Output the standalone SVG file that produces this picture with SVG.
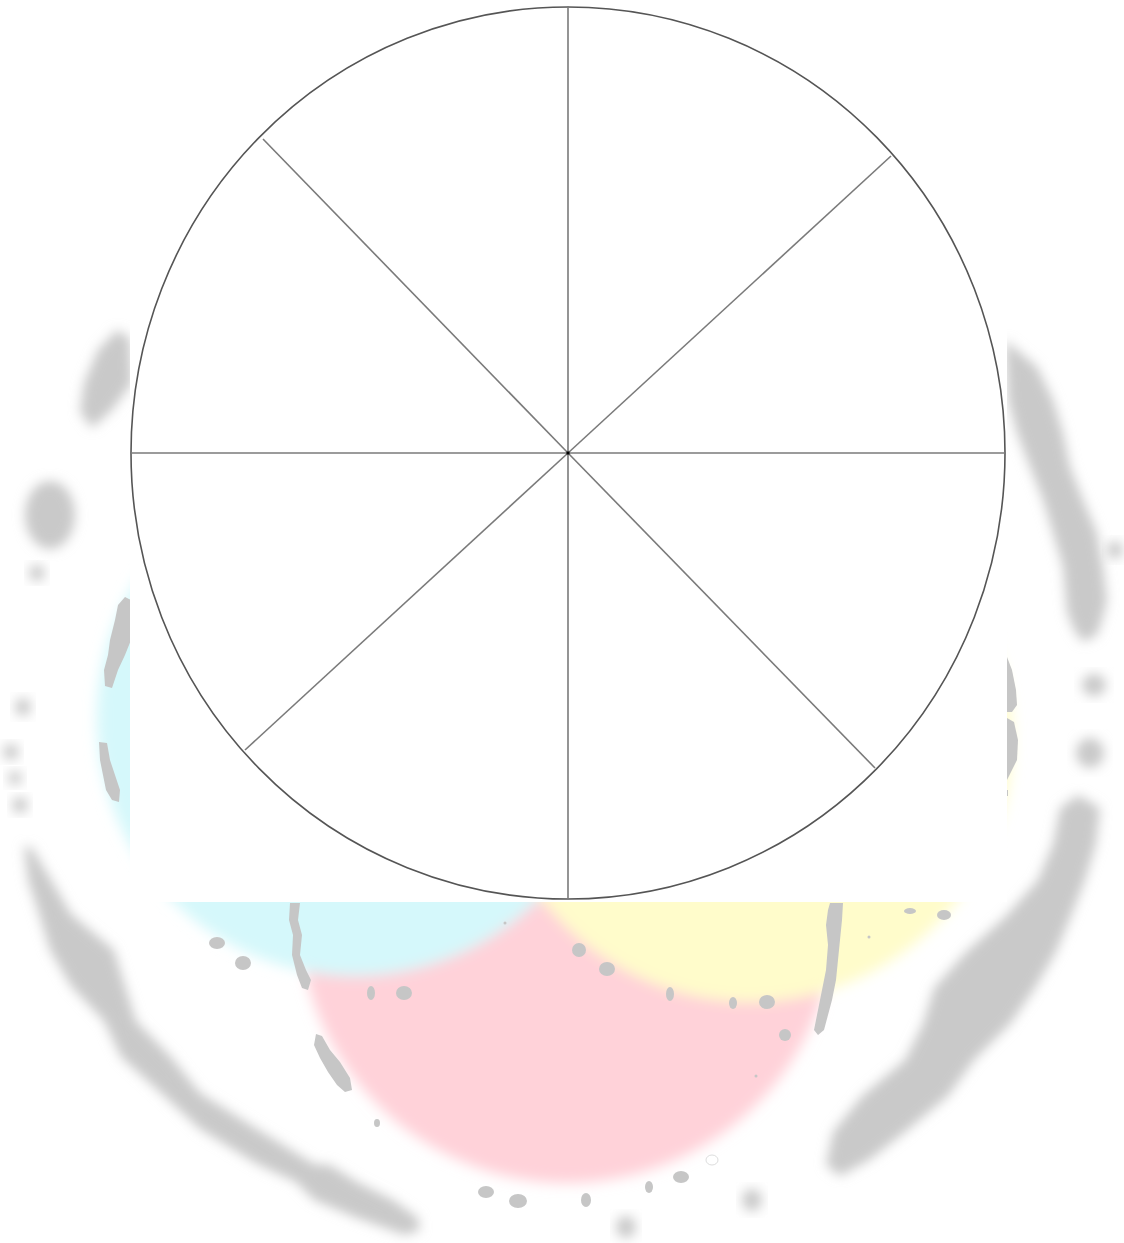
<svg xmlns="http://www.w3.org/2000/svg" width="1124" height="1243" viewBox="0 0 1124 1243">
<defs>
<filter id="soft" x="-30%" y="-30%" width="160%" height="160%"><feGaussianBlur stdDeviation="6"/></filter>
<filter id="tint" x="-10%" y="-10%" width="120%" height="120%"><feGaussianBlur stdDeviation="7"/></filter>
<style>
.shadow{fill:#c9c9c9;filter:url(#soft)}
.isle{fill:#c6c6c6}
.spoke{stroke:#7a7a7a;stroke-width:1.6;fill:none}
.rim{stroke:#555;stroke-width:1.6;fill:none}
</style>
</defs>
<rect width="1124" height="1243" fill="#fff"/>
<g id="tints" filter="url(#tint)">
<circle id="pink" cx="567" cy="915" r="268" fill="#ffd2d9"/>
<circle id="cyan" cx="355" cy="718" r="258" fill="#d5f8fb"/>
<circle id="yellow" cx="750" cy="740" r="262" fill="#fffccb"/>
</g>
<g id="shadows">
<path class="shadow" d="M117,330 L130,338 L132,383 L112,410 L92,428 L80,412 L84,383 L98,350 Z"/>
<ellipse class="shadow" cx="50" cy="515" rx="25" ry="34"/>
<ellipse class="shadow" cx="37" cy="573" rx="8" ry="8"/>
<ellipse class="shadow" cx="23" cy="707" rx="8" ry="9"/>
<ellipse class="shadow" cx="11" cy="752" rx="8" ry="8"/>
<ellipse class="shadow" cx="15" cy="778" rx="7" ry="7"/>
<ellipse class="shadow" cx="20" cy="805" rx="8" ry="8"/>
<path class="shadow" d="M24,846 L32,848 L60,895 L71,914 L114,950 L125,986 L136,1021 L171,1057 L200,1093 L257,1129 L314,1164 L330,1165 L357,1182 L393,1200 L418,1218 L420,1230 L405,1235 L357,1218 L314,1200 L296,1182 L257,1164 L200,1129 L161,1093 L121,1057 L104,1021 L71,986 L50,950 L39,914 L28,880 Z"/>
<path class="shadow" d="M1005,340 L1037,367 L1053,400 L1063,433 L1070,467 L1083,500 L1097,533 L1103,567 L1107,600 L1103,617 L1097,635 L1083,642 L1074,630 L1067,612 L1063,567 L1053,533 L1043,500 L1030,467 L1017,433 L1008,400 Z"/>
<ellipse class="shadow" cx="1115" cy="550" rx="8" ry="9"/>
<ellipse class="shadow" cx="1094" cy="685" rx="12" ry="11"/>
<ellipse class="shadow" cx="1090" cy="753" rx="14" ry="15"/>
<path class="shadow" d="M1078,795 L1100,808 L1096,844 L1085,880 L1071,916 L1056,952 L1035,988 L1010,1024 L974,1060 L948,1096 L905,1132 L869,1160 L840,1176 L826,1165 L833,1132 L862,1096 L905,1060 L923,1024 L934,988 L966,952 L1006,916 L1038,880 L1053,844 L1060,808 Z"/>
<ellipse class="shadow" cx="752" cy="1200" rx="10" ry="11"/>
<ellipse class="shadow" cx="626" cy="1227" rx="10" ry="11"/>
</g>
<g id="islands">
<path class="isle" d="M125,597 L131,600 L131,640 L125,655 L118,670 L112,688 L105,686 L104,670 L108,655 L110,640 L115,620 L118,605 Z"/>
<path class="isle" d="M99,742 L107,743 L110,760 L115,775 L120,790 L119,802 L112,800 L106,790 L103,775 L100,760 Z"/>
<path class="isle" d="M290,903 L300,903 L298,920 L302,935 L300,955 L306,970 L311,980 L308,990 L302,988 L297,975 L292,955 L293,935 L289,920 Z"/>
<ellipse class="isle" cx="217" cy="943" rx="8" ry="6"/>
<ellipse class="isle" cx="243" cy="963" rx="8" ry="7"/>
<ellipse class="isle" cx="371" cy="993" rx="4" ry="7"/>
<ellipse class="isle" cx="404" cy="993" rx="8" ry="7"/>
<path class="isle" d="M316,1034 L322,1036 L330,1050 L340,1062 L350,1078 L352,1090 L345,1092 L337,1085 L328,1072 L320,1058 L314,1045 Z"/>
<ellipse class="isle" cx="377" cy="1123" rx="3" ry="4"/>
<ellipse class="isle" cx="486" cy="1192" rx="8" ry="6"/>
<ellipse class="isle" cx="518" cy="1201" rx="9" ry="7"/>
<ellipse class="isle" cx="586" cy="1200" rx="5" ry="7"/>
<ellipse class="isle" cx="649" cy="1187" rx="4" ry="6"/>
<ellipse class="isle" cx="681" cy="1177" rx="8" ry="6"/>
<ellipse cx="712" cy="1160" rx="6" ry="5" fill="#fff" stroke="#ddd" stroke-width="1"/>
<circle class="isle" cx="756" cy="1076" r="1.5"/>
<ellipse class="isle" cx="785" cy="1035" rx="6" ry="6"/>
<ellipse class="isle" cx="767" cy="1002" rx="8" ry="7"/>
<ellipse class="isle" cx="733" cy="1003" rx="4" ry="6"/>
<ellipse class="isle" cx="670" cy="994" rx="4" ry="7"/>
<ellipse class="isle" cx="607" cy="969" rx="8" ry="7"/>
<ellipse class="isle" cx="579" cy="950" rx="7" ry="7"/>
<path class="isle" d="M830,903 L843,903 L842,920 L840,940 L838,960 L836,980 L832,1000 L828,1015 L824,1030 L818,1035 L814,1030 L818,1010 L822,990 L826,970 L828,945 L826,925 L828,910 Z"/>
<ellipse class="isle" cx="910" cy="911" rx="6" ry="3"/>
<ellipse class="isle" cx="944" cy="915" rx="7" ry="5"/>
<circle class="isle" cx="869" cy="937" r="1.5"/>
<circle class="isle" cx="505" cy="923" r="1.5"/>
<path class="isle" d="M1007,657 L1012,670 L1016,690 L1017,705 L1012,712 L1007,712 Z"/>
<path class="isle" d="M1007,718 L1014,722 L1018,740 L1017,760 L1012,770 L1007,780 Z"/>
<rect class="isle" x="1007" y="790" width="1" height="6"/>
</g>
<g id="wheel">
<rect id="panel" x="130" y="0" width="877" height="902" fill="#fff"/>
<ellipse id="rim" class="rim" cx="568" cy="453" rx="437" ry="446"/>
<g id="spokes">
<line class="spoke" x1="568" y1="6" x2="568" y2="899"/>
<line class="spoke" x1="131" y1="453" x2="1005" y2="453"/>
<line class="spoke" x1="263" y1="139" x2="568" y2="453"/>
<line class="spoke" x1="891" y1="156" x2="568" y2="453"/>
<line class="spoke" x1="245" y1="750" x2="568" y2="453"/>
<line class="spoke" x1="875" y1="768" x2="568" y2="453"/>
</g>
<rect id="hub" x="566.5" y="451.5" width="3" height="3" fill="#000"/>
</g>
</svg>
